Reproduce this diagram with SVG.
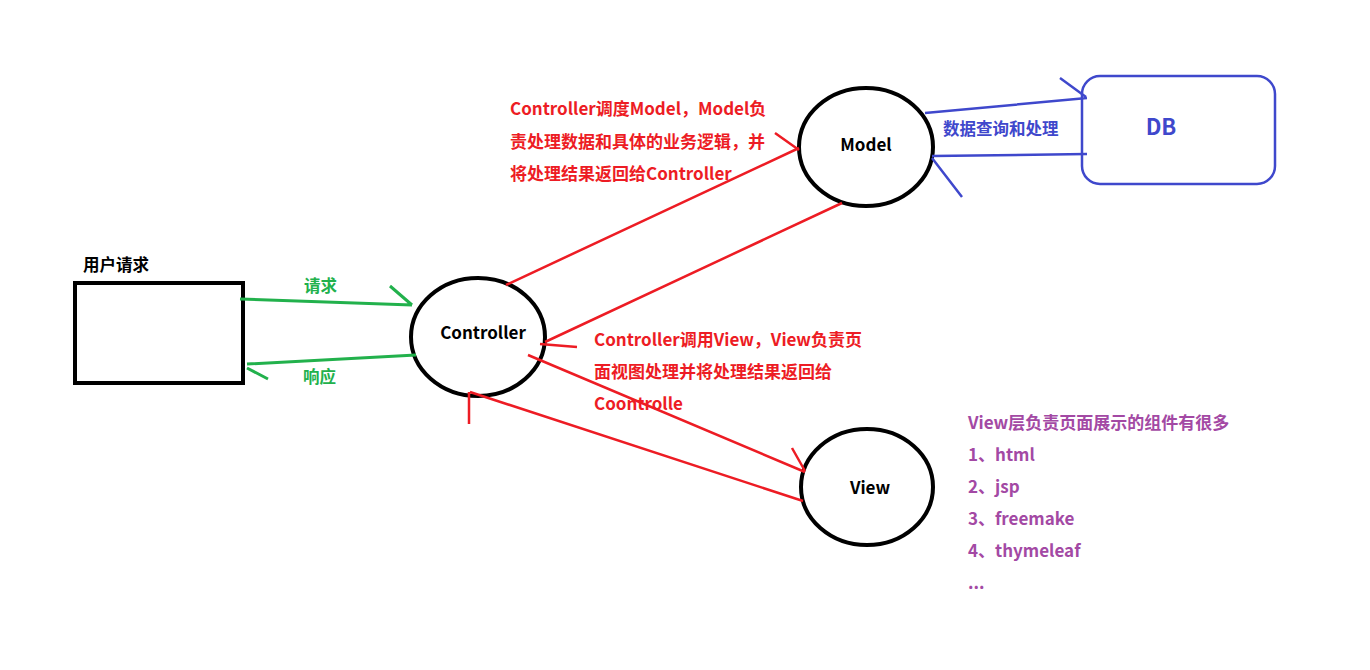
<svg xmlns="http://www.w3.org/2000/svg" width="1370" height="670" viewBox="0 0 1370 670">
<style>
text{font-family:"Noto Sans CJK SC","Microsoft YaHei",sans-serif;font-weight:bold}
.node{fill:none;stroke:#000;stroke-width:4}
.lbl{font-size:17px;fill:#000}
.red{stroke:#ED1C24;stroke-width:2.5;fill:none}
.grn{stroke:#22B14C;stroke-width:3;fill:none}
.blu{stroke:#3F48CC;stroke-width:2.5;fill:none}
.tr{font-size:17px;fill:#ED1C24}
.tp{font-size:17px;fill:#A349A4}
</style>
<rect width="1370" height="670" fill="#fff"/>
<g id="user">
<rect class="node" x="75" y="283" width="168" height="100"/>
<text class="lbl" x="83" y="271" style="font-size:16.5px">用户请求</text>
</g>
<g id="controller">
<ellipse class="node" cx="478" cy="337" rx="67" ry="59"/>
<text class="lbl" x="483" y="339" text-anchor="middle">Controller</text>
</g>
<g id="model">
<ellipse class="node" cx="866" cy="147" rx="67" ry="59"/>
<text class="lbl" x="866" y="151" text-anchor="middle">Model</text>
</g>
<g id="view">
<ellipse class="node" cx="867" cy="487" rx="66" ry="58"/>
<text class="lbl" x="870" y="494" text-anchor="middle">View</text>
</g>
<g id="db">
<rect x="1082" y="76" width="193" height="108" rx="18" fill="none" stroke="#3F48CC" stroke-width="2.5"/>
<text x="1161" y="135" font-size="22" fill="#3F48CC" text-anchor="middle">DB</text>
</g>
<g id="connectors">
<path class="grn" d="M240 299 L412 305 M390 286 L412 305"/>
<path class="grn" d="M247 364 L416 355 M247 368 L268 379"/>
<path class="blu" d="M925 113 L1087 98 M1060 78 L1086 97"/>
<path class="blu" d="M932 156 L1087 154 M932 158 L962 197"/>
<path class="red" d="M506 285 L799 148 M775 133 L799 150"/>
<path class="red" d="M842 203 L545 342 M540 344 L577 347"/>
<path class="red" d="M528 355 L805 472 M792 448 L805 471"/>
<path class="red" d="M803 501 L470 392 M469 392 L469 424"/>
</g>
<g id="labels">
<text x="304" y="292" font-size="16.5" fill="#22B14C">请求</text>
<text x="303" y="383" font-size="16.5" fill="#22B14C">响应</text>
<text x="943" y="135" font-size="16.5" fill="#3F48CC">数据查询和处理</text>
<text class="tr" x="510" y="115">Controller调度Model，Model负</text>
<text class="tr" x="510" y="148">责处理数据和具体的业务逻辑，并</text>
<text class="tr" x="510" y="180">将处理结果返回给Controller</text>
<text class="tr" x="594" y="346">Controller调用View，View负责页</text>
<text class="tr" x="594" y="378">面视图处理并将处理结果返回给</text>
<text class="tr" x="594" y="410">Coontrolle</text>
<text class="tp" x="968" y="429">View层负责页面展示的组件有很多</text>
<text class="tp" x="968" y="461">1、html</text>
<text class="tp" x="968" y="493">2、jsp</text>
<text class="tp" x="968" y="525">3、freemake</text>
<text class="tp" x="968" y="557">4、thymeleaf</text>
<text class="tp" x="968" y="589">...</text>
</g>
</svg>
